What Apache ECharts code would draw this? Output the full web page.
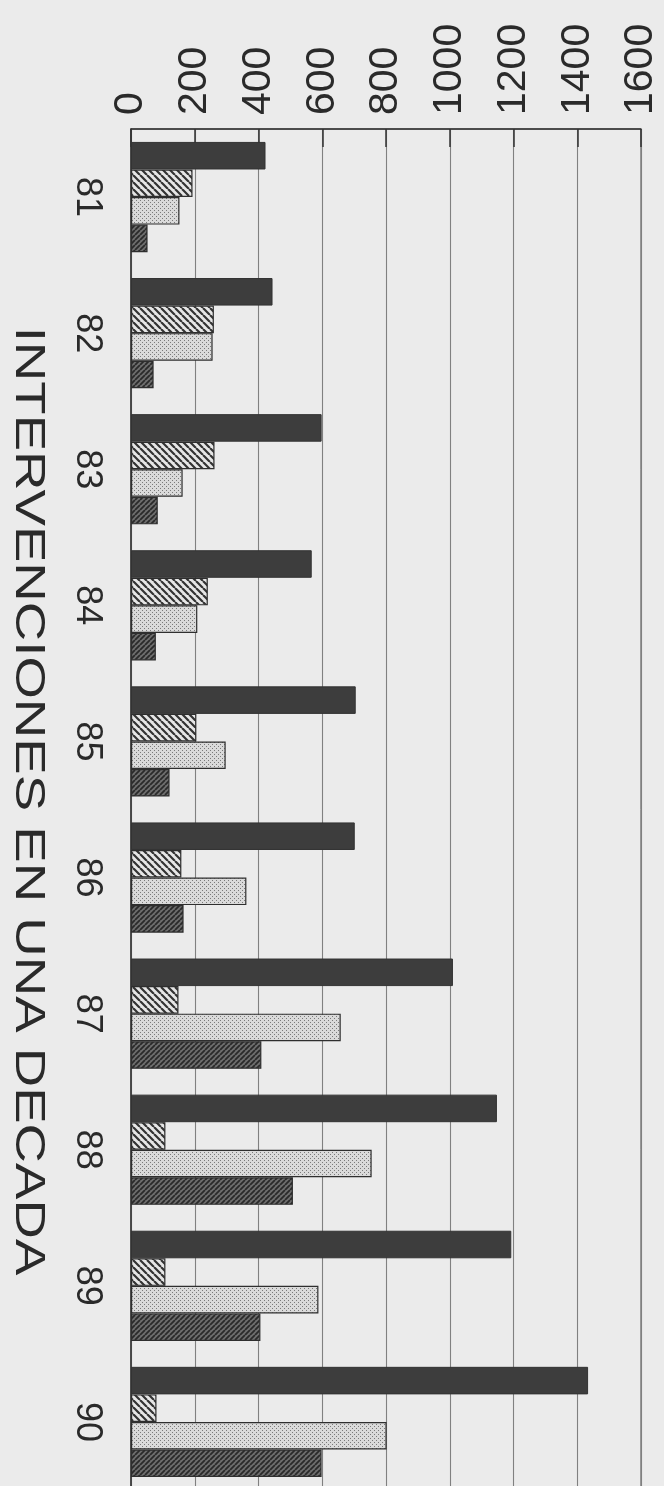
<!DOCTYPE html>
<html><head><meta charset="utf-8">
<script src="https://cdn.jsdelivr.net/npm/echarts@6/dist/echarts.min.js"></script>
<style>html,body{margin:0;padding:0;overflow:hidden;background:#ebebeb}#c{width:664px;height:1500px}</style>
</head><body><div id="c"></div>
<script>
const categories = ['81','82','83','84','85','86','87','88','89','90'];
const serie1 = [422,444,598,567,705,702,1010,1148,1193,1434];
const serie2 = [193,260,262,241,205,158,149,108,108,80];
const serie3 = [152,256,162,208,297,362,658,755,588,802];
const serie4 = [52,71,84,78,121,165,409,508,406,598];
const valueMin = 0, valueMax = 1600, valueStep = 200;
const titleText = 'INTERVENCIONES EN UNA DECADA';

function makePattern(kind){
  const c = document.createElement('canvas');
  const ctx = c.getContext('2d');
  if(kind==='back'){
    c.width=7;c.height=7;
    ctx.fillStyle='#e6e6e6';ctx.fillRect(0,0,7,7);
    ctx.strokeStyle='#333';ctx.lineWidth=2.2;
    ctx.beginPath();
    for(let o=-7;o<=7;o+=7){ctx.moveTo(o,0);ctx.lineTo(o+7,7);}
    ctx.stroke();
  } else if(kind==='dots'){
    c.width=4;c.height=4;
    ctx.fillStyle='#dadada';ctx.fillRect(0,0,4,4);
    ctx.fillStyle='#7a7a7a';
    ctx.fillRect(0,0,1,1);ctx.fillRect(2,2,1,1);
  } else {
    c.width=5;c.height=5;
    ctx.fillStyle='#6e6e6e';ctx.fillRect(0,0,5,5);
    ctx.strokeStyle='#2a2a2a';ctx.lineWidth=1.8;
    ctx.beginPath();
    for(let o=-5;o<=10;o+=5){ctx.moveTo(o,5);ctx.lineTo(o+5,0);}
    ctx.stroke();
  }
  return {image:c, repeat:'repeat'};
}

const chart = echarts.init(document.getElementById('c'), null, {renderer:'canvas'});
const border = {borderColor:'#2e2e2e', borderWidth:1.2};
chart.setOption({
  backgroundColor:'#ebebeb',
  animation:false,
  grid:{left:131, right:23, top:129, bottom:10, containLabel:false, show:true, borderColor:'#444', borderWidth:1},
  graphic:[{
    type:'text', x:28, y:801, rotation:-Math.PI/2, scaleX:1.3, scaleY:1,
    style:{text:titleText, fontSize:42, fontFamily:'Liberation Sans', fill:'#2a2a2a', textAlign:'center', textVerticalAlign:'middle'}
  }],
  xAxis:{
    type:'value', position:'top', min:valueMin, max:valueMax, interval:valueStep,
    axisLine:{show:true, lineStyle:{color:'#333', width:1.5}},
    axisTick:{show:true, inside:true, length:18, lineStyle:{color:'#333', width:1.5}},
    axisLabel:{rotate:-90, fontSize:41, color:'#2a2a2a', fontFamily:'Liberation Sans', margin:14, formatter:function(v){return String(v);}},
    splitLine:{show:true, lineStyle:{color:'#808080', width:1.1}}
  },
  yAxis:{
    type:'category', data:categories, inverse:true,
    axisLine:{show:true, lineStyle:{color:'#333', width:1.5}},
    axisTick:{show:false},
    axisLabel:{rotate:-90, fontSize:36, color:'#2a2a2a', fontFamily:'Liberation Sans', margin:26}
  },
  series:[
    {name:'Serie 1', type:'bar', data:serie1, barGap:'0%', barCategoryGap:'19%', itemStyle:{color:'#3d3d3d', borderColor:'#333', borderWidth:1}},
    {name:'Serie 2', type:'bar', data:serie2, itemStyle:Object.assign({color:makePattern('back')}, border)},
    {name:'Serie 3', type:'bar', data:serie3, itemStyle:Object.assign({color:makePattern('dots')}, border)},
    {name:'Serie 4', type:'bar', data:serie4, itemStyle:Object.assign({color:makePattern('fwd')}, border)}
  ]
});
</script></body></html>
